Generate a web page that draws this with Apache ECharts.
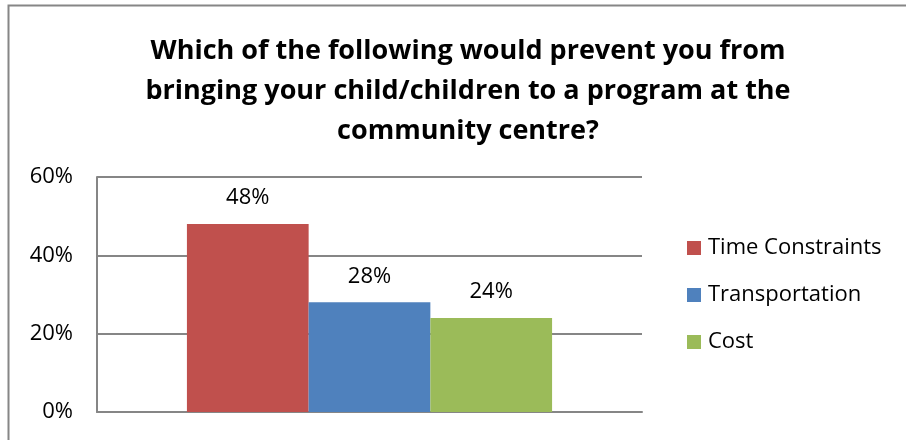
<!DOCTYPE html>
<html>
<head>
<meta charset="utf-8">
<script src="https://cdn.jsdelivr.net/npm/echarts@6/dist/echarts.min.js"></script>
<style>
  html, body { margin: 0; padding: 0; background: #fff; }
  #chart { width: 906px; height: 440px; }
</style>
</head>
<body>
<div id="chart"></div>
<script>
// 数据
var categories = ['Q'];
var seriesNames = ['Time Constraints', 'Transportation', 'Cost'];
var timeConstraints = [48];
var transportation = [28];
var cost = [24];
var yTicks = [0, 20, 40, 60];
var colors = ['#C0504D', '#4F81BD', '#9BBB59'];

var titleText = 'Which of the following would prevent you from\nbringing your child/children to a program at the\ncommunity centre?';
var font = 'Open Sans';

var chart = echarts.init(document.getElementById('chart'));

function barSeries(name, data, color) {
  return {
    name: name,
    type: 'bar',
    data: data,
    barGap: '0%',
    barCategoryGap: '33%',
    itemStyle: { color: color },
    label: {
      show: true,
      position: 'top',
      distance: 15,
      formatter: '{c}%',
      color: '#000',
      fontFamily: font,
      fontSize: 22
    }
  };
}

var option = {
  animation: false,
  backgroundColor: '#fff',
  title: {
    text: titleText,
    left: 463,
    textAlign: 'center',
    top: 26,
    textStyle: {
      fontFamily: font,
      fontWeight: 'bold',
      fontSize: 27,
      lineHeight: 40,
      color: '#000'
    }
  },
  // 外边框
  graphic: [{
    type: 'rect',
    shape: { x: 8.5, y: 5.5, width: 905, height: 450 },
    style: { fill: 'none', stroke: '#868686', lineWidth: 2 },
    silent: true
  }],
  legend: {
    orient: 'vertical',
    left: 682,
    top: 232,
    itemWidth: 14,
    itemHeight: 14,
    itemGap: 25,
    icon: 'rect',
    data: seriesNames,
    textStyle: { fontFamily: font, fontSize: 22, color: '#000', padding: [0, 0, 0, 2] }
  },
  grid: {
    left: 97,
    right: 264,
    top: 177,
    bottom: 28,
    containLabel: false
  },
  xAxis: {
    type: 'category',
    data: categories,
    axisLine: { show: true, lineStyle: { color: '#868686', width: 2 } },
    axisTick: { show: false },
    axisLabel: { show: false }
  },
  yAxis: {
    type: 'value',
    min: yTicks[0],
    max: yTicks[yTicks.length - 1],
    interval: 20,
    axisLine: { show: true, lineStyle: { color: '#868686', width: 2 } },
    axisTick: { show: false },
    splitLine: { show: true, lineStyle: { color: '#868686', width: 2 } },
    axisLabel: {
      formatter: '{value}%',
      margin: 24,
      color: '#000',
      fontFamily: font,
      fontSize: 22
    }
  },
  series: [
    barSeries(seriesNames[0], timeConstraints, colors[0]),
    barSeries(seriesNames[1], transportation, colors[1]),
    barSeries(seriesNames[2], cost, colors[2])
  ]
};

chart.setOption(option, true);
</script>
</body>
</html>
